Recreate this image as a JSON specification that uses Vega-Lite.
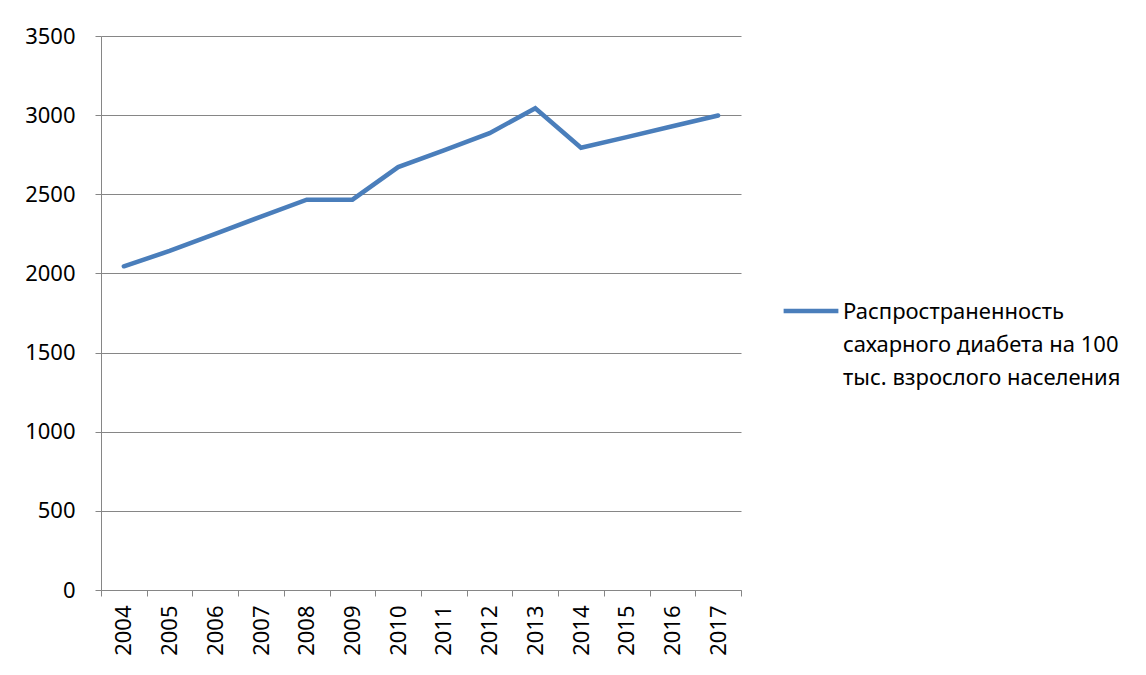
{
  "$schema": "https://vega.github.io/schema/vega-lite/v6.json",
  "width": 640,
  "height": 554,
  "autosize": {"type": "none"},
  "padding": {"left": 101, "top": 36, "right": 405, "bottom": 85},
  "background": "white",
  "data": {
    "values": [
      {"year": "2004", "value": 2045, "series": "Распространенность сахарного диабета на 100 тыс. взрослого населения"},
      {"year": "2005", "value": 2142, "series": "Распространенность сахарного диабета на 100 тыс. взрослого населения"},
      {"year": "2006", "value": 2250, "series": "Распространенность сахарного диабета на 100 тыс. взрослого населения"},
      {"year": "2007", "value": 2359, "series": "Распространенность сахарного диабета на 100 тыс. взрослого населения"},
      {"year": "2008", "value": 2466, "series": "Распространенность сахарного диабета на 100 тыс. взрослого населения"},
      {"year": "2009", "value": 2466, "series": "Распространенность сахарного диабета на 100 тыс. взрослого населения"},
      {"year": "2010", "value": 2672, "series": "Распространенность сахарного диабета на 100 тыс. взрослого населения"},
      {"year": "2011", "value": 2777, "series": "Распространенность сахарного диабета на 100 тыс. взрослого населения"},
      {"year": "2012", "value": 2886, "series": "Распространенность сахарного диабета на 100 тыс. взрослого населения"},
      {"year": "2013", "value": 3044, "series": "Распространенность сахарного диабета на 100 тыс. взрослого населения"},
      {"year": "2014", "value": 2794, "series": "Распространенность сахарного диабета на 100 тыс. взрослого населения"},
      {"year": "2015", "value": 2861, "series": "Распространенность сахарного диабета на 100 тыс. взрослого населения"},
      {"year": "2016", "value": 2930, "series": "Распространенность сахарного диабета на 100 тыс. взрослого населения"},
      {"year": "2017", "value": 2998, "series": "Распространенность сахарного диабета на 100 тыс. взрослого населения"}
    ]
  },
  "mark": {"type": "line", "strokeWidth": 4.5, "strokeCap": "round", "strokeJoin": "miter"},
  "encoding": {
    "x": {
      "field": "year",
      "type": "ordinal",
      "bandPosition": 0.5,
      "scale": {"type": "band", "paddingInner": 0, "paddingOuter": 0},
      "axis": {
        "title": null,
        "labelAngle": -90,
        "labelAlign": "right",
        "labelBaseline": "middle",
        "labelPadding": 9,
        "tickBand": "extent",
        "tickSize": 6,
        "tickColor": "#868686",
        "domainColor": "#868686",
        "grid": false
      }
    },
    "y": {
      "field": "value",
      "type": "quantitative",
      "scale": {"domain": [0, 3500], "nice": false},
      "axis": {
        "title": null,
        "format": "d",
        "values": [0, 500, 1000, 1500, 2000, 2500, 3000, 3500],
        "tickSize": 6,
        "labelPadding": 20,
        "tickColor": "#868686",
        "domainColor": "#868686",
        "grid": true,
        "gridColor": "#868686",
        "gridWidth": 1
      }
    },
    "color": {
      "field": "series",
      "type": "nominal",
      "scale": {"range": ["#4A7EBB"]},
      "legend": {
        "title": null,
        "orient": "none",
        "legendX": 680,
        "legendY": 245,
        "symbolType": "stroke",
        "symbolSize": 3000,
        "symbolStrokeWidth": 4.5,
        "labelExpr": "['Распространенность', 'сахарного диабета на 100', 'тыс. взрослого населения']",
        "labelBaseline": "alphabetic",
        "labelOffset": 2,
        "labelLimit": 400,
        "encode": {"labels": {"update": {"lineHeight": {"value": 33}, "dy": {"value": 8}}}}
      }
    }
  },
  "config": {
    "font": "Noto Sans",
    "view": {"stroke": null},
    "axis": {"labelFont": "Noto Sans", "labelFontSize": 22, "labelColor": "#000000"},
    "legend": {"labelFont": "Noto Sans", "labelFontSize": 22, "labelColor": "#000000"}
  }
}
